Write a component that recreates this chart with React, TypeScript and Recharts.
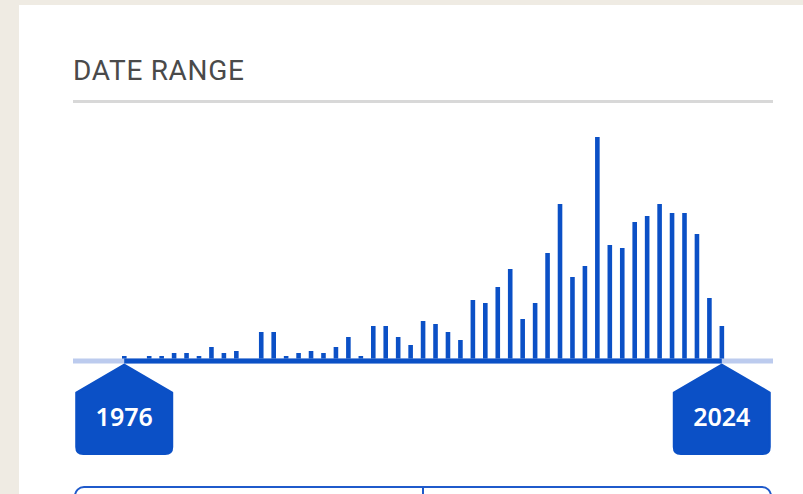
import React from "react";
import { Bar, BarChart, ReferenceLine, XAxis, YAxis } from "recharts";

const years = [
  1976, 1977, 1978, 1979, 1980, 1981, 1982, 1983, 1984, 1985, 1986, 1987, 1988,
  1989, 1990, 1991, 1992, 1993, 1994, 1995, 1996, 1997, 1998, 1999, 2000, 2001,
  2002, 2003, 2004, 2005, 2006, 2007, 2008, 2009, 2010, 2011, 2012, 2013, 2014,
  2015, 2016, 2017, 2018, 2019, 2020, 2021, 2022, 2023, 2024,
];

const counts = [
  5, 0, 5, 5, 8, 8, 5, 14, 8, 10, 0, 29, 29, 5, 8, 10, 8, 14, 24, 5, 35, 35, 24,
  16, 40, 37, 29, 21, 61, 58, 74, 92, 42, 58, 108, 157, 84, 95, 224, 116, 113,
  139, 145, 157, 148, 148, 127, 63, 35,
];

const rangeStart = 1976;
const rangeEnd = 2024;

const blue = "#0b50c6";
const lightBlue = "#bccbee";

const data = years.map((year, i) => ({ year, count: counts[i] }));

function HandleTick(props: any) {
  const { x, y, payload } = props;
  if (payload.value !== rangeStart && payload.value !== rangeEnd) return <g />;
  const top = y + 3.5;
  const shoulder = top + 28;
  const bottom = y + 93;
  const w = 48;
  const r = 7;
  const d = [
    `M ${x} ${top}`,
    `L ${x + w} ${shoulder}`,
    `L ${x + w} ${bottom - r}`,
    `Q ${x + w} ${bottom} ${x + w - r} ${bottom}`,
    `L ${x - w + r} ${bottom}`,
    `Q ${x - w} ${bottom} ${x - w} ${bottom - r}`,
    `L ${x - w} ${shoulder}`,
    "Z",
  ].join(" ");
  return (
    <g>
      <path d={d} fill={blue} stroke={blue} strokeWidth={2} strokeLinejoin="round" />
      <text
        x={x}
        y={y + 65}
        textAnchor="middle"
        fill="#ffffff"
        fontFamily="'Noto Sans', sans-serif"
        fontWeight={600}
        fontSize={25}
      >
        {payload.value}
      </text>
    </g>
  );
}

export default function App() {
  return (
    <div
      style={{
        position: "fixed",
        left: 0,
        top: 0,
        width: 803,
        height: 494,
        background: "#efebe3",
        overflow: "hidden",
      }}
    >
      <div
        style={{
          position: "absolute",
          left: 19,
          top: 5,
          width: 800,
          height: 500,
          background: "#ffffff",
        }}
      />
      <div
        style={{
          position: "absolute",
          left: 73,
          top: 53,
          fontFamily: "Roboto, sans-serif",
          fontSize: 28,
          letterSpacing: 0.7,
          lineHeight: "36px",
          color: "#4a4a4a",
        }}
      >
        DATE RANGE
      </div>
      <div
        style={{
          position: "absolute",
          left: 73,
          top: 100,
          width: 700,
          height: 3,
          background: "#d8d8d8",
        }}
      />
      <div style={{ position: "absolute", left: 0, top: 0 }}>
        <BarChart
          width={803}
          height={494}
          data={data}
          margin={{ top: 131, right: 30, bottom: 33, left: 73 }}
        >
          <XAxis
            dataKey="year"
            height={100}
            padding={{ left: 45, right: 45 }}
            axisLine={false}
            tickLine={false}
            tickSize={0}
            tickMargin={0}
            interval={0}
            tick={<HandleTick />}
          />
          <YAxis hide domain={[0, 230]} />
          <ReferenceLine y={0} stroke={lightBlue} strokeWidth={5} />
          <ReferenceLine
            segment={[
              { x: rangeStart, y: 0 },
              { x: rangeEnd, y: 0 },
            ]}
            stroke={blue}
            strokeWidth={5}
            ifOverflow="visible"
          />
          <Bar dataKey="count" fill={blue} barSize={4.6} isAnimationActive={false} />
        </BarChart>
      </div>
      <div
        style={{
          position: "absolute",
          left: 74,
          top: 486,
          width: 694,
          height: 40,
          border: "2px solid #1f5acb",
          borderRadius: 10,
        }}
      >
        <div
          style={{
            position: "absolute",
            left: 346,
            top: 0,
            width: 2,
            height: 40,
            background: "#1f5acb",
          }}
        />
      </div>
    </div>
  );
}
